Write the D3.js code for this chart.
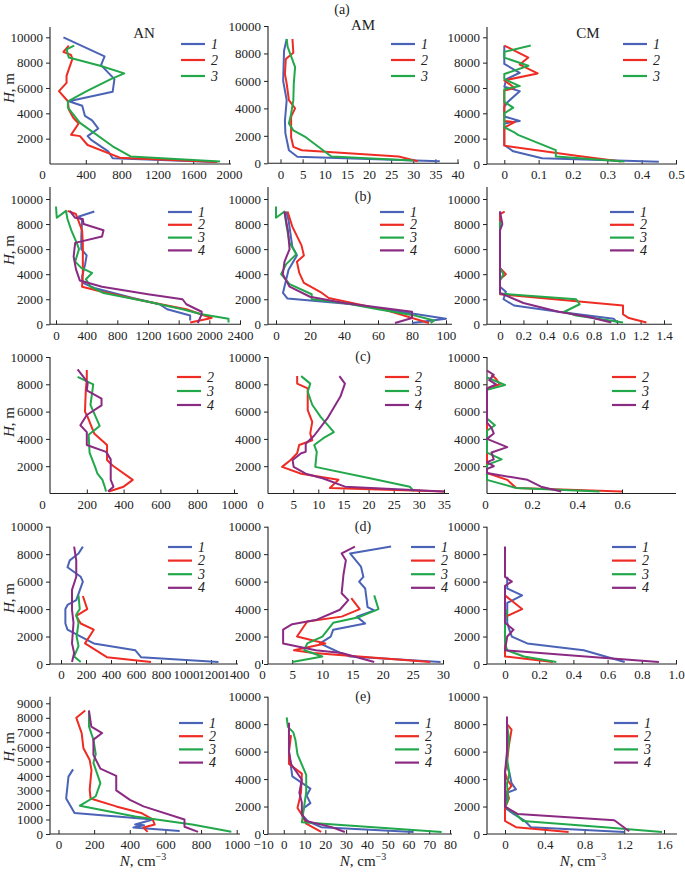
<!DOCTYPE html>
<html><head><meta charset="utf-8">
<script src="https://cdn.jsdelivr.net/npm/d3@7"></script>
<style>
body{margin:0;background:#fff}
svg{display:block}
text{font-family:"Liberation Serif","Times New Roman",serif;fill:#222}
</style>
</head><body>
<svg id="chart" width="685" height="872"></svg>
<script>
// ---------- DATA: profiles as [N, H] pairs ----------
// Row (a)
const aAN1 = [[150,10000],[610,8500],[570,7800],[720,6700],[700,5700],[210,4950],[360,4600],[390,3800],[470,3450],[540,2800],[420,2200],[460,1900],[650,1000],[700,450],[1850,150]];
const aAN2 = [[210,9350],[150,8850],[235,8600],[250,8300],[185,6950],[185,6400],[100,5750],[200,4950],[210,4300],[260,3650],[320,3200],[235,2300],[335,2200],[420,1500],[780,500],[1870,150]];
const aAN3 = [[270,9350],[185,9050],[210,8400],[560,7750],[830,7150],[680,6700],[410,5750],[200,4950],[200,4450],[335,3250],[700,1400],[900,600],[1900,200]];
const aAM1 = [[1.4,9050],[0.8,8200],[0.6,6000],[1,5300],[1.4,4600],[1,3100],[1.1,2200],[1.9,950],[3.8,480],[36,150]];
const aAM2 = [[2.7,9050],[2.9,8050],[1.2,7600],[1.0,6500],[1.4,5800],[1.9,4600],[3.3,4000],[2.4,3400],[2.4,1900],[2.9,1200],[4.8,950],[26.7,500],[31,150]];
const aAM3 = [[1.4,9050],[1.6,8500],[3.3,7000],[3.0,5800],[2.9,4600],[2.4,3600],[1.9,2900],[2.9,2400],[5.7,1900],[11.5,500],[30,200]];
const aCM1 = [[0,9350],[0,7900],[0.045,7200],[0.006,6700],[0,6100],[0.045,5750],[0.01,4900],[0,4500],[0,3750],[0.045,3400],[0,3200],[0,1500],[0.026,1000],[0.11,460],[0.45,180]];
const aCM2 = [[0,9350],[0.07,8400],[0.045,7850],[0.097,7150],[0,6600],[0.03,6000],[0,5800],[0,3400],[0.03,3300],[0.005,2950],[0,2900],[0,1450],[0.21,650],[0.34,200]];
const aCM3 = [[0.077,9350],[0,8850],[0,8400],[0.07,7750],[0,7100],[0,6700],[0.045,6150],[0,5900],[0,4900],[0.026,4450],[0,4000],[0,2900],[0.032,2450],[0.04,2300],[0.15,1100],[0.15,600],[0.35,200]];
// Row (b)
const bAN1 = [[500,9000],[300,8600],[340,8300],[330,7000],[330,6000],[400,5500],[380,4800],[340,3800],[350,3300],[500,2900],[750,2500],[1000,2100],[1350,1600],[1450,1200],[1750,700],[1750,300]];
const bAN2 = [[150,9050],[260,8800],[340,7500],[350,6500],[350,5000],[350,4000],[340,3000],[600,2600],[1200,1800],[1700,1200],[2030,500],[1750,150]];
const bAN3 = [[0,9400],[10,8500],[130,9050],[150,8400],[200,7500],[270,6500],[300,6000],[250,5000],[330,4500],[470,4100],[390,3600],[450,3000],[620,2500],[1200,1800],[1650,1200],[1900,800],[2250,450],[2250,150]];
const bAN4 = [[180,9050],[250,8500],[350,8400],[360,8000],[620,7500],[600,7000],[250,6500],[230,5400],[260,4400],[310,3500],[600,3000],[1200,2400],[1650,2000],[1700,1600],[1900,1000],[1900,800],[1850,100]];
const bAM1 = [[6,9000],[7.4,8300],[9.6,6200],[12.3,5500],[7.4,4350],[5.5,3300],[4.1,2500],[6.8,2050],[45,1600],[100,450],[80,100]];
const bAM2 = [[6.8,9000],[9.6,7800],[15,6300],[16.4,5500],[12.3,5000],[13.7,4100],[16.4,3300],[27,2500],[31,2100],[64,1150],[90,100]];
const bAM3 = [[0,9400],[0,8500],[5,9000],[6,8000],[8,6500],[12,5600],[6,4800],[3,4000],[8,3200],[21,2400],[21,2000],[40,1700],[60,1200],[80,750],[93,300],[91,100]];
const bAM4 = [[5,9000],[7,7500],[8,6000],[5,5000],[4,4000],[8,3000],[20,2200],[40,1700],[80,1000],[80,500],[70,100]];
const bCM1 = [[0,9000],[0,3000],[0.05,2600],[0.03,2000],[0.12,1500],[0.5,1000],[0.97,450],[1.0,150]];
const bCM2 = [[0.04,9000],[0,8800],[0,4500],[0.05,4000],[0,3600],[0,2400],[1.05,1500],[1.05,800],[1.1,500],[1.25,150]];
const bCM3 = [[0,8200],[0,4500],[0.03,4000],[0,3500],[0,2450],[0.65,2000],[0.68,1600],[0.55,1000],[0.65,700],[1.05,150]];
const bCM4 = [[0,9000],[0.02,8000],[0,7500],[0,2500],[0.2,1700],[0.5,1000],[0.75,600],[0.95,150]];
// Row (c)
const cAN2 = [[200,9050],[200,8300],[195,7700],[190,6000],[205,5600],[240,4400],[310,3550],[310,2450],[340,2050],[450,1000],[400,500],[320,150]];
const cAN3 = [[150,8550],[235,8000],[220,6500],[270,4950],[210,4300],[215,3000],[245,1950],[258,1450],[285,1000],[295,600],[305,150]];
const cAN4 = [[150,9100],[190,8400],[205,8100],[200,7550],[280,6950],[280,6450],[200,5750],[165,5000],[200,4500],[200,3550],[305,3050],[330,2500],[330,1950],[330,1000],[345,500],[315,150]];
const cAM2 = [[5.8,8600],[5.8,8050],[7.9,7700],[7.9,6100],[8.8,5250],[8.4,4400],[8.8,3900],[6.2,3550],[5.8,2950],[4.5,2450],[2.8,1950],[6.6,1450],[14,1000],[12.3,400],[35,150]];
const cAM3 = [[6.6,8600],[8.4,8050],[7.9,7450],[8.8,6500],[10.5,5600],[13.1,4500],[11,4050],[9.2,3550],[9.7,3050],[9.4,1950],[20.5,1100],[28.2,500],[29,150]];
const cAM4 = [[14.2,8600],[15.3,8050],[14.4,7100],[11.8,5500],[9.2,4250],[7.5,3650],[7.5,3050],[6.6,2950],[4.9,2450],[5.1,1950],[7.5,1450],[11,1100],[15.3,500],[35,150]];
const cCM2 = [[0.02,8700],[0.04,8400],[0.057,8000],[0,7700],[0,1500],[0.09,1000],[0.13,400],[0.6,150]];
const cCM3 = [[0,8500],[0.08,7950],[0,7600],[0,5500],[0.035,5000],[0,4600],[0,3000],[0.065,2500],[0,2100],[0,1000],[0.13,400],[0.5,150]];
const cCM4 = [[0,9000],[0.03,8700],[0.01,8300],[0.04,8000],[0,7700],[0,5200],[0.02,4800],[0.03,4400],[0,4000],[0.09,3400],[0.02,3000],[0.03,2500],[0,2300],[0.03,2000],[0,1800],[0,1500],[0.18,1000],[0.24,500],[0.33,150]];
// Row (d)
const dAN1 = [[175,8550],[140,8050],[70,7550],[52,7050],[158,6350],[175,6000],[122,4650],[52,4300],[35,4000],[35,2950],[52,2500],[158,2000],[262,1500],[595,1000],[640,500],[1260,150]];
const dAN2 = [[175,4950],[210,4000],[122,3500],[158,2950],[262,2500],[192,1500],[367,500],[720,150]];
const dAN3 = [[140,5000],[150,4000],[122,3600],[140,3000],[125,2000],[140,1300],[105,550],[158,150]];
const dAN4 = [[105,8550],[122,7550],[122,6350],[88,5400],[88,3950],[100,3000],[88,1500],[105,800],[88,150]];
const dAM1 = [[21.4,8550],[14.6,8050],[16.4,7100],[16.8,6350],[16.1,6000],[17.1,5500],[17.5,4150],[18.6,3900],[15.7,3450],[17.1,2950],[11.8,2500],[11.4,2000],[9.6,1500],[13,800],[14.6,550],[29.6,150]];
const dAM2 = [[14.8,4800],[16.2,4000],[13.2,3450],[7.5,3100],[5.8,2000],[10.5,1500],[5.3,1000],[8.5,800],[27.9,150]];
const dAM3 = [[18.6,5000],[19.3,4000],[16,3400],[11.8,3000],[10,2000],[7.5,1500],[7,1000],[10,550],[5,150]];
const dAM4 = [[15.4,8550],[13.2,8050],[13.9,7550],[13.5,6500],[13.2,5150],[14.3,4650],[12.9,3950],[8.9,3200],[5,2900],[3.5,2500],[3.5,1500],[8.9,1000],[13.2,800],[18.6,150]];
const dCM1 = [[0.013,6350],[0.013,5500],[0.1,5000],[0.013,4450],[0.013,3000],[0.025,2500],[0.04,2000],[0.13,1500],[0.46,1000],[0.7,150]];
const dCM2 = [[0,5000],[0.1,4000],[0.013,3500],[0,3300],[0,550],[0.28,150]];
const dCM3 = [[0.013,3950],[0,3000],[0,1500],[0.013,1000],[0.11,550],[0.3,150]];
const dCM4 = [[0,8550],[0,6350],[0.04,6000],[0,5700],[0,3000],[0.05,2500],[0.013,2000],[0,1000],[0.47,550],[0.9,150]];
// Row (e)
const eAN1 = [[82,4450],[56,3950],[43,2450],[69,1900],[90,1450],[530,1000],[430,650],[480,600],[420,450],[680,200]];
const eAN2 = [[150,8500],[100,8000],[130,6950],[140,5900],[175,5100],[185,4400],[175,3050],[180,2450],[324,1900],[464,1450],[528,1000],[540,650],[477,450],[500,150]];
const eAN3 = [[171,8500],[171,7400],[196,6500],[209,5500],[196,4900],[235,3500],[209,2600],[120,1950],[430,1200],[750,650],[970,150]];
const eAN4 = [[171,8500],[184,7400],[245,6950],[196,6500],[196,5450],[235,4500],[324,4000],[324,3000],[401,2350],[477,1900],[707,1000],[707,500],[783,150]];
const eAM1 = [[2.5,6000],[4.1,4200],[12.8,3300],[11,2800],[12.8,2250],[9.7,1900],[8.7,1400],[11.8,900],[18,500],[62.5,150]];
const eAM2 = [[3.5,7200],[2.5,6000],[2.5,5100],[8.7,4400],[8.3,3050],[7.7,2600],[6.6,1900],[8.7,1400],[10.8,750],[18,150]];
const eAM3 = [[1.4,8500],[2,7800],[4.6,7400],[5.6,6850],[6.6,5800],[10.8,4300],[10.8,3050],[9.7,1900],[8.7,850],[76,150]];
const eAM4 = [[2.5,8100],[2.5,6000],[3.5,5100],[8.7,3950],[7.5,3000],[8.7,2300],[8.7,1450],[10.8,950],[23,500],[29.4,150]];
const eCM1 = [[0.02,5000],[0.044,4450],[0.066,3700],[0.11,3250],[0.02,3000],[0.02,2500],[0,1900],[0.09,1450],[0.2,950],[0.26,500],[1.2,150]];
const eCM2 = [[0.02,8000],[0.066,7600],[0.04,6500],[0.02,5200],[0,4500],[0.02,4000],[0.066,3500],[0.02,3100],[0.04,2600],[0,1900],[0,950],[0.11,500],[0.64,150]];
const eCM3 = [[0.02,8000],[0.04,6950],[0.02,5500],[0.044,4400],[0.02,3700],[0.03,2500],[0,2000],[0.1,1500],[0.18,950],[1.0,500],[1.58,150]];
const eCM4 = [[0.02,8550],[0.02,6000],[0,4500],[0,2000],[0.13,1450],[1.1,1000],[1.25,200]];

// ---------- tick values / labels ----------
const hTicks = [2000,4000,6000,8000,10000];
const hTicks0 = [0,2000,4000,6000,8000,10000];
const hTicksE = [0,1000,2000,3000,4000,5000,6000,7000,8000,9000];
const aANx = [0,400,800,1200,1600,2000];
const aAMx = [0,5,10,15,20,25,30,35,40];
const aCMx = [0,0.1,0.2,0.3,0.4,0.5];
const bANx = [0,400,800,1200,1600,2000,2400];
const bAMx = [0,20,40,60,80,100];
const bCMx = [0,0.2,0.4,0.6,0.8,1.0,1.2,1.4];
const bCMxLab = ["0","0.2","0.4","0.6","0.8","1.0","1.2","1.4"];
const cANx = [0,200,400,600,800,1000];
const cAMx = [0,5,10,15,20,25,30,35];
const cCMx = [0,0.2,0.4,0.6];
const dANx = [0,200,400,600,800,1000,1200,1400];
const dAMx = [0,5,10,15,20,25,30];
const dCMx = [0,0.2,0.4,0.6,0.8,1.0];
const dCMxLab = ["0","0.2","0.4","0.6","0.8","1.0"];
const eANx = [0,200,400,600,800,1000];
const eAMx = [-10,0,10,20,30,40,50,60,70,80];
const eAMxLab = ["\u221210","0","10","20","30","40","50","60","70","80"];
const eCMx = [0,0.4,0.8,1.2,1.6];
const rowLetters = ["(a)","(b)","(c)","(d)","(e)"];
const colNames = ["AN","AM","CM"];

// ---------- styles & layout ----------
const colors = {1:"#4b63b6",2:"#ee2c24",3:"#22a84b",4:"#8b2a83"};
const colAxisX = [50,268,487];

const panels = [
 {data:[aAN1,aAN2,aAN3],ids:[1,2,3],xd:[0,2000],xp:[50,229],xe:231,xt:aANx,zs:-8,yd:[0,10000],yp:[164,37.3],yTop:27,yt:hTicks,lg:[181,44,16],c:0},
 {data:[aAM1,aAM2,aAM3],ids:[1,2,3],xd:[0,40],xp:[280.5,457.5],xe:459,xt:aAMx,zs:0,yd:[0,10000],yp:[163.3,26],yTop:26,yt:hTicks0,lg:[391,44,16],c:1},
 {data:[aCM1,aCM2,aCM3],ids:[1,2,3],xd:[0,0.5],xp:[504.3,676],xe:677,xt:aCMx,zs:0,yd:[0,10000],yp:[164,37.3],yTop:27,yt:hTicks0,lg:[623,44,16],c:2},

 {data:[bAN1,bAN2,bAN3,bAN4],ids:[1,2,3,4],xd:[0,2400],xp:[56,240],xe:241,xt:bANx,zs:0,yd:[0,10000],yp:[324.3,199],yTop:187,yt:hTicks0,lg:[168,212,12.8],c:0},
 {data:[bAM1,bAM2,bAM3,bAM4],ids:[1,2,3,4],xd:[0,100],xp:[276,446],xe:452,xt:bAMx,zs:0,yd:[0,10000],yp:[324.3,199],yTop:187,yt:hTicks0,lg:[380,212,12.8],c:1},
 {data:[bCM1,bCM2,bCM3,bCM4],ids:[1,2,3,4],xd:[0,1.4],xp:[500,664],xe:672,xt:bCMx,xl:bCMxLab,zs:0,yd:[0,10000],yp:[324.3,199],yTop:187,yt:hTicks0,lg:[610,212,12.8],c:2},

 {data:[cAN2,cAN3,cAN4],ids:[2,3,4],xd:[0,1000],xp:[50,234],xe:238,xt:cANx,zs:-8,yd:[0,10000],yp:[493.5,357],yTop:357,yt:hTicks,lg:[177,377,14],c:0},
 {data:[cAM2,cAM3,cAM4],ids:[2,3,4],xd:[0,35],xp:[268,444],xe:449,xt:cAMx,zs:-8,yd:[0,10000],yp:[493.5,357],yTop:357,yt:hTicks,lg:[385,377,14],c:1},
 {data:[cCM2,cCM3,cCM4],ids:[2,3,4],xd:[0,0.6],xp:[487,622],xe:676,xt:cCMx,zs:-2,yd:[0,10000],yp:[493.5,357],yTop:357,yt:hTicks,lg:[612,377,14],c:2},

 {data:[dAN1,dAN2,dAN3,dAN4],ids:[1,2,3,4],xd:[0,1400],xp:[61,236],xe:238,xt:dANx,zs:0,yd:[0,10000],yp:[664,526.7],yTop:526.7,yt:hTicks0,lg:[168,547,13.6],c:0},
 {data:[dAM1,dAM2,dAM3,dAM4],ids:[1,2,3,4],xd:[0,30],xp:[262,443],xe:444,xt:dAMx,zs:0,yd:[0,10000],yp:[664,526.7],yTop:526.7,yt:hTicks0,lg:[411,547,13.6],c:1},
 {data:[dCM1,dCM2,dCM3,dCM4],ids:[1,2,3,4],xd:[0,1.0],xp:[505,676],xe:677,xt:dCMx,xl:dCMxLab,zs:0,yd:[0,10000],yp:[664,526.7],yTop:526.7,yt:hTicks0,lg:[612,547,13.6],c:2},

 {data:[eAN1,eAN2,eAN3,eAN4],ids:[1,2,3,4],xd:[0,1000],xp:[58.5,236.7],xe:240,xt:eANx,zs:0,yd:[0,9000],yp:[834,703.3],yTop:696.7,yt:hTicksE,lg:[179,723,13.2],c:0},
 {data:[eAM1,eAM2,eAM3,eAM4],ids:[1,2,3,4],xd:[-10,80],xp:[263,450],xe:452,xt:eAMx,xl:eAMxLab,zs:0,yd:[0,10000],yp:[834,696.7],yTop:696.7,yt:hTicks0,lg:[395,723,13.2],c:1},
 {data:[eCM1,eCM2,eCM3,eCM4],ids:[1,2,3,4],xd:[0,1.6],xp:[505,664],xe:677,xt:eCMx,zs:0,yd:[0,10000],yp:[834,696.7],yTop:696.7,yt:hTicks0,lg:[614,723,13.2],c:2}
];

const svg = d3.select("#chart");

panels.forEach(p => {
  const g = svg.append("g");
  const x = d3.scaleLinear().domain(p.xd).range(p.xp);
  const y = d3.scaleLinear().domain(p.yd).range(p.yp);
  const ax = colAxisX[p.c];
  const base = y(0);

  g.append("line").attr("x1",ax).attr("x2",ax).attr("y1",p.yTop).attr("y2",base).attr("stroke","#222").attr("stroke-width",1.1);
  g.append("line").attr("x1",ax).attr("x2",p.xe).attr("y1",base).attr("y2",base).attr("stroke","#222").attr("stroke-width",1.1);

  const yAxis = d3.axisLeft(y).tickValues(p.yt).tickSize(4).tickPadding(3).tickFormat(d3.format("d"));
  const yg = g.append("g").attr("transform",`translate(${ax},0)`).call(yAxis);
  yg.select(".domain").remove();
  yg.selectAll("line").attr("stroke","#222");
  yg.selectAll("text").attr("font-size",13).attr("font-family","Liberation Serif, Times New Roman, serif").attr("fill","#222");

  const xAxis = d3.axisBottom(x).tickValues(p.xt).tickSize(-4).tickPadding(6)
    .tickFormat((d,i) => p.xl ? p.xl[i] : String(d));
  const xg = g.append("g").attr("transform",`translate(0,${base})`).call(xAxis);
  xg.select(".domain").remove();
  xg.selectAll("line").attr("stroke","#222");
  xg.selectAll("text").attr("font-size",13).attr("font-family","Liberation Serif, Times New Roman, serif").attr("fill","#222");
  if (p.zs) xg.selectAll(".tick").filter(d => d === 0).select("text").attr("dx", p.zs);
  xg.selectAll(".tick").filter(d => Math.abs(x(d) - ax) < 1.5).select("line").remove();

  const line = d3.line().x(d => x(d[0])).y(d => y(d[1]));
  p.data.forEach((s,i) => {
    g.append("path").attr("d", line(s)).attr("fill","none")
      .attr("stroke", colors[p.ids[i]]).attr("stroke-width",2).attr("stroke-linejoin","round");
  });

  p.ids.forEach((id,i) => {
    const ly = p.lg[1] + i*p.lg[2];
    g.append("line").attr("x1",p.lg[0]).attr("x2",p.lg[0]+24).attr("y1",ly).attr("y2",ly)
      .attr("stroke",colors[id]).attr("stroke-width",2.2);
    g.append("text").attr("x",p.lg[0]+30).attr("y",ly+4.5).attr("font-size",14)
      .attr("font-style","italic").text(id);
  });
});

[[144,38],[363,30],[588,38]].forEach((pos,i) => {
  svg.append("text").attr("x",pos[0]).attr("y",pos[1]).attr("text-anchor","middle").attr("font-size",15).text(colNames[i]);
});
[[342,14],[363,201],[363,361],[363,531],[363,701]].forEach((pos,i) => {
  svg.append("text").attr("x",pos[0]).attr("y",pos[1]).attr("text-anchor","middle").attr("font-size",14).text(rowLetters[i]);
});
[88,250,422,598,747].forEach(cy => {
  const t = svg.append("text").attr("transform",`translate(14,${cy}) rotate(-90)`).attr("text-anchor","middle").attr("font-size",15);
  t.append("tspan").attr("font-style","italic").text("H");
  t.append("tspan").text(", m");
});
[143,363,583].forEach(cx => {
  const t = svg.append("text").attr("x",cx).attr("y",866).attr("text-anchor","middle").attr("font-size",15);
  t.append("tspan").attr("font-style","italic").text("N");
  t.append("tspan").text(", cm");
  t.append("tspan").attr("dy",-6).attr("font-size",10).text("\u22123");
});
</script>
</body></html>
